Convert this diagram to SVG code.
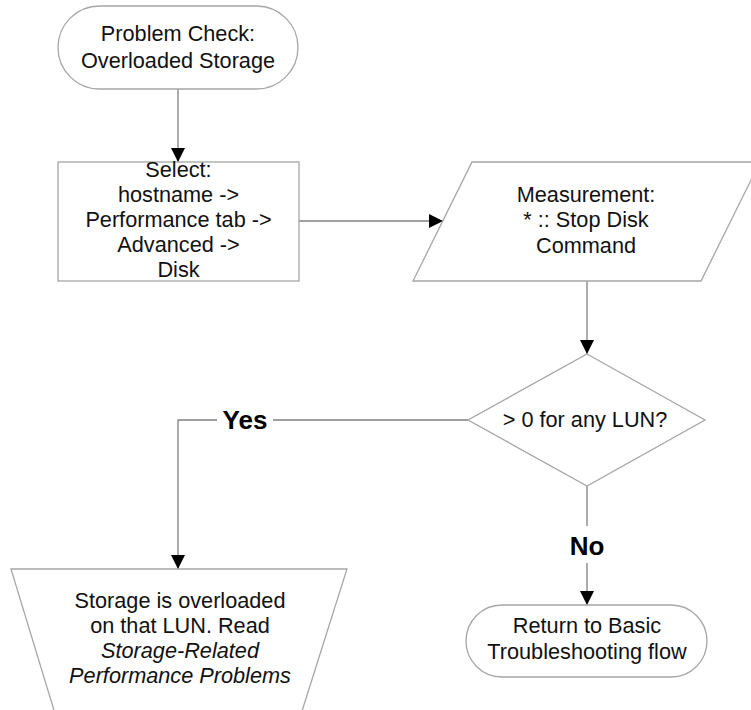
<svg xmlns="http://www.w3.org/2000/svg" width="751" height="710" viewBox="0 0 751 710">
  <defs>
    <marker id="arrow" viewBox="0 0 14 14" refX="14" refY="7" markerWidth="14" markerHeight="14" markerUnits="userSpaceOnUse" orient="auto">
      <path d="M0,0 L14,7 L0,14 Z" fill="#000"/>
    </marker>
    <style>
      .shape { fill: #fff; stroke: #a6a6a6; stroke-width: 1.3; }
      .link { fill: none; stroke: #808080; stroke-width: 1.3; }
      .txt { font-family: "Liberation Sans", Arial, sans-serif; font-size: 21.7px; fill: #111; text-anchor: middle; }
      .it { font-style: italic; }
      .lbl { font-family: "Liberation Sans", Arial, sans-serif; font-size: 26px; font-weight: bold; fill: #000; text-anchor: middle; }
    </style>
  </defs>
  <rect width="751" height="710" fill="#fff"/>

  <!-- connectors -->
  <g id="connectors">
    <path class="link" d="M178,89 V162" marker-end="url(#arrow)"/>
    <path class="link" d="M299,221 H443" marker-end="url(#arrow)"/>
    <path class="link" d="M587,281 V354" marker-end="url(#arrow)"/>
    <path class="link" d="M468,420 H273 M217,420 H178 V569" marker-end="url(#arrow)"/>
    <path class="link" d="M587,486 V526 M587,563 V605" marker-end="url(#arrow)"/>
    <text class="lbl" x="245" y="429">Yes</text>
    <text class="lbl" x="587" y="555">No</text>
  </g>

  <!-- start terminal -->
  <g id="start">
    <rect class="shape" x="58" y="6" width="240" height="83" rx="41.5" ry="41.5"/>
    <text class="txt" x="178" y="41">Problem Check:</text>
    <text class="txt" x="178" y="68">Overloaded Storage</text>
  </g>

  <!-- select step -->
  <g id="select">
    <rect class="shape" x="58" y="162" width="241" height="119"/>
    <text class="txt" x="178.5" y="177">Select:</text>
    <text class="txt" x="178.5" y="202">hostname -&gt;</text>
    <text class="txt" x="178.5" y="227">Performance tab -&gt;</text>
    <text class="txt" x="178.5" y="252">Advanced -&gt;</text>
    <text class="txt" x="178.5" y="277">Disk</text>
  </g>

  <!-- measurement data -->
  <g id="measurement">
    <polygon class="shape" points="472,162 760,162 701,281 413,281"/>
    <text class="txt" x="586" y="202">Measurement:</text>
    <text class="txt" x="586" y="227">* :: Stop Disk</text>
    <text class="txt" x="586" y="253">Command</text>
  </g>

  <!-- decision -->
  <g id="decision">
    <polygon class="shape" points="587,354 705,420 587,486 468,420"/>
    <text class="txt" x="585" y="427">&gt; 0 for any LUN?</text>
  </g>

  <!-- overloaded outcome -->
  <g id="overloaded">
    <polygon class="shape" points="11,569 347,569 296,730 60,730"/>
    <text class="txt" x="180" y="608">Storage is overloaded</text>
    <text class="txt" x="180" y="633">on that LUN. Read</text>
    <text class="txt it" x="180" y="658">Storage-Related</text>
    <text class="txt it" x="180" y="683">Performance Problems</text>
  </g>

  <!-- return terminal -->
  <g id="return">
    <rect class="shape" x="466" y="605" width="241" height="72" rx="36" ry="36"/>
    <text class="txt" x="587" y="633">Return to Basic</text>
    <text class="txt" x="587" y="659">Troubleshooting flow</text>
  </g>
</svg>
